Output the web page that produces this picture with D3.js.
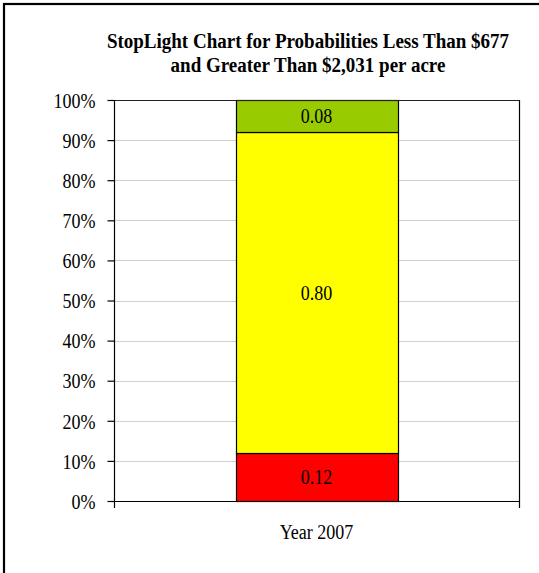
<!DOCTYPE html>
<html>
<head>
<meta charset="utf-8">
<script src="https://cdn.jsdelivr.net/npm/d3@7"></script>
<style>
  html, body { margin: 0; padding: 0; background: #fff; }
  svg { display: block; }
  text { font-family: "Liberation Serif", "Times New Roman", serif; fill: #000; }
</style>
</head>
<body>
<svg id="chart" width="539" height="573"></svg>
<script>
// Stacked probability bar ("stoplight") data
const categories = ["Year 2007"];
const segmentNames = ["low", "middle", "high"];
const lowValues = [0.12];
const middleValues = [0.80];
const highValues = [0.08];
const segmentColors = ["#FF0000", "#FFFF00", "#99CC00"];
const yTicks = [0, 0.1, 0.2, 0.3, 0.4, 0.5, 0.6, 0.7, 0.8, 0.9, 1.0];
const titleLines = ["StopLight Chart for Probabilities Less Than $677",
                    "and Greater Than $2,031 per acre"];

const svg = d3.select("#chart");
const W = 539, H = 573;
const plot = { left: 114, top: 100, right: 519, bottom: 501 };
const SERIF = "'Liberation Serif', 'Times New Roman', serif";

// narrow the glyphs of a text selection horizontally by a factor
function condense(sel, factor) {
  sel.each(function () {
    const w = this.getComputedTextLength();
    d3.select(this).attr("textLength", w * factor).attr("lengthAdjust", "spacingAndGlyphs");
  });
}

// outer chart frame
svg.append("rect")
  .attr("x", 4).attr("y", 4)
  .attr("width", W + 10).attr("height", H + 10)
  .attr("fill", "#fff").attr("stroke", "#000").attr("stroke-width", 2.2);

// title
const title = svg.append("text")
  .attr("x", 308).attr("y", 48)
  .attr("text-anchor", "middle")
  .style("font-weight", "bold").style("font-size", "20px");
title.selectAll("tspan").data(titleLines).join("tspan")
  .attr("x", 308).attr("y", (d, i) => 48 + i * 24)
  .text(d => d)
  .call(condense, 0.95);

const x = d3.scaleBand().domain(categories)
  .range([plot.left, plot.right]).paddingInner(0.6).paddingOuter(0.3);
const y = d3.scaleLinear().domain([0, 1]).range([plot.bottom, plot.top]);

// horizontal gridlines
svg.append("g").selectAll("line").data(yTicks.filter(t => t > 0 && t < 1)).join("line")
  .attr("x1", plot.left).attr("x2", plot.right)
  .attr("y1", d => Math.round(y(d)) + 0.5).attr("y2", d => Math.round(y(d)) + 0.5)
  .attr("stroke", "#d0d0d0").attr("stroke-width", 1);

// stacked segments
const rows = categories.map((c, i) => ({ cat: c, low: lowValues[i], middle: middleValues[i], high: highValues[i] }));
const stack = d3.stack().keys(segmentNames)(rows);
const colour = d3.scaleOrdinal().domain(segmentNames).range(segmentColors);

const layers = svg.append("g").selectAll("g").data(stack).join("g")
  .attr("fill", d => colour(d.key));
layers.selectAll("rect").data(d => d).join("rect")
  .attr("x", d => Math.round(x(d.data.cat)) + 0.5)
  .attr("width", Math.round(x.bandwidth()))
  .attr("y", d => Math.round(y(d[1])) + 0.5)
  .attr("height", d => Math.round(y(d[0])) - Math.round(y(d[1])))
  .attr("stroke", "#000").attr("stroke-width", 1.2);

// segment value labels
layers.selectAll("text").data(d => d.map(v => ({ v, key: d.key }))).join("text")
  .attr("x", d => x(d.v.data.cat) + x.bandwidth() / 2)
  .attr("y", d => y((d.v[0] + d.v[1]) / 2))
  .attr("dy", "0.36em")
  .attr("text-anchor", "middle")
  .style("font-size", "20px")
  .text(d => d3.format(".2f")(d.v.data[d.key]))
  .call(condense, 0.9);

// plot frame: top and right edges
svg.append("line").attr("x1", plot.left).attr("x2", plot.right)
  .attr("y1", plot.top + 0.5).attr("y2", plot.top + 0.5)
  .attr("stroke", "#222").attr("stroke-width", 1);
svg.append("line").attr("x1", plot.right + 0.5).attr("x2", plot.right + 0.5)
  .attr("y1", plot.top).attr("y2", plot.bottom + 7)
  .attr("stroke", "#000").attr("stroke-width", 1.2);

// y axis
const yAxis = svg.append("g")
  .attr("transform", `translate(${plot.left + 0.5},0)`)
  .call(d3.axisLeft(y).tickValues(yTicks).tickFormat(d3.format(".0%"))
    .tickSize(7).tickPadding(12));
yAxis.select(".domain").attr("stroke", "#000").attr("stroke-width", 1.2)
  .attr("d", `M0,${plot.top}V${plot.bottom + 7}`);
yAxis.selectAll(".tick line").attr("stroke", "#000").attr("stroke-width", 1.2);
yAxis.selectAll(".tick text")
  .style("font-family", SERIF)
  .style("font-size", "20px").attr("dy", "0.36em").attr("fill", "#000")
  .call(condense, 0.9);

// x axis
const xAxis = svg.append("g")
  .attr("transform", `translate(0,${plot.bottom + 0.5})`)
  .call(d3.axisBottom(x).tickSize(0).tickPadding(23));
xAxis.select(".domain").attr("stroke", "#000").attr("stroke-width", 1.2)
  .attr("d", `M${plot.left},0H${plot.right}`);
xAxis.selectAll(".tick text")
  .style("font-family", SERIF)
  .style("font-size", "20px").attr("fill", "#000")
  .call(condense, 0.9);
</script>
</body>
</html>
